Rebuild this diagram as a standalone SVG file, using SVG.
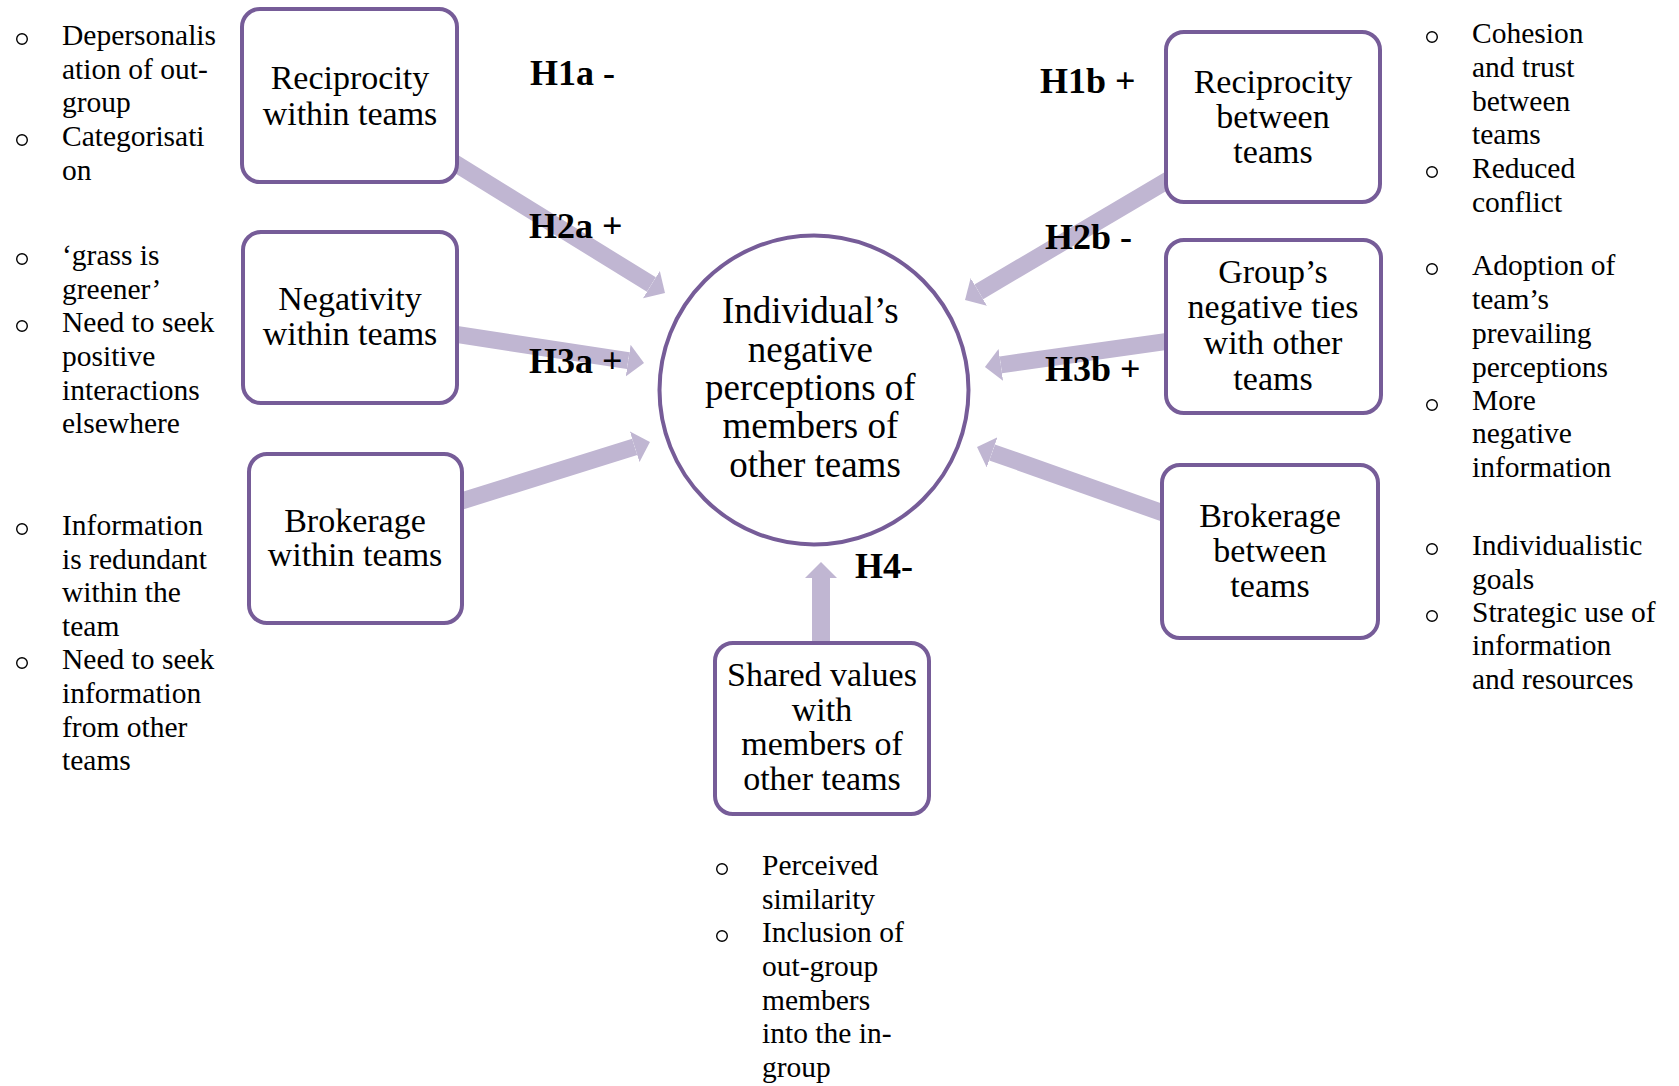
<svg xmlns="http://www.w3.org/2000/svg" width="1679" height="1086" viewBox="0 0 1679 1086">
  <style>
    .box { fill: #ffffff; stroke: #765c98; stroke-width: 4; }
    .hub { fill: #ffffff; stroke: #765c98; stroke-width: 4; }
    .node-text { font-family: "Liberation Serif", "Times New Roman", serif; font-size: 34px; fill: #000; text-anchor: middle; }
    .hub-text { font-family: "Liberation Serif", "Times New Roman", serif; font-size: 37px; fill: #000; text-anchor: middle; }
    .label { font-family: "Liberation Serif", "Times New Roman", serif; font-size: 36px; font-weight: bold; fill: #000; }
    .note { font-family: "Liberation Serif", "Times New Roman", serif; font-size: 29.5px; fill: #000; }
    .dot { fill: none; stroke: #000; stroke-width: 1.4; }
    .link { stroke: #c0b6d2; stroke-width: 17; fill: none; marker-end: url(#head); }
  </style>
  <defs>
    <marker id="head" markerUnits="userSpaceOnUse" markerWidth="16" markerHeight="32" refX="0" refY="16" orient="auto" viewBox="0 0 16 32">
      <path d="M0,0 L16,16 L0,32 Z" fill="#c0b6d2"/>
    </marker>
  </defs>
  <rect width="1679" height="1086" fill="#ffffff"/>

  <!-- connectors -->
  <g id="connectors">
    <line class="link" x1="445" y1="157" x2="651.4" y2="284.6"/>
    <line class="link" x1="445" y1="332.7" x2="628.2" y2="360.6"/>
    <line class="link" x1="450" y1="504.7" x2="634.7" y2="446.8"/>
    <line class="link" x1="1176" y1="175.4" x2="978.8" y2="291.9"/>
    <line class="link" x1="1176" y1="340.2" x2="1000.8" y2="364.8"/>
    <line class="link" x1="1173" y1="516.6" x2="992.1" y2="452.4"/>
    <line class="link" x1="821" y1="650" x2="821" y2="578" style="stroke-width:18"/>
  </g>

  <!-- central outcome -->
  <g id="outcome">
    <circle class="hub" cx="814" cy="390" r="154.5"/>
    <text class="hub-text" x="815">
      <tspan x="815" y="323">Individual’s</tspan>
      <tspan x="815" y="362">negative</tspan>
      <tspan x="815" y="400">perceptions of</tspan>
      <tspan x="815" y="438">members of</tspan>
      <tspan x="815" y="477">other teams</tspan>
    </text>
  </g>

  <!-- predictor nodes -->
  <g id="reciprocity-within">
    <rect class="box" x="242" y="9" width="215" height="173" rx="18"/>
    <text class="node-text"><tspan x="350" y="89">Reciprocity</tspan><tspan x="350" y="125">within teams</tspan></text>
  </g>
  <g id="negativity-within">
    <rect class="box" x="243" y="232" width="214" height="171" rx="18"/>
    <text class="node-text"><tspan x="350" y="310">Negativity</tspan><tspan x="350" y="345">within teams</tspan></text>
  </g>
  <g id="brokerage-within">
    <rect class="box" x="249" y="454" width="213" height="169" rx="18"/>
    <text class="node-text"><tspan x="355" y="532">Brokerage</tspan><tspan x="355" y="566">within teams</tspan></text>
  </g>
  <g id="reciprocity-between">
    <rect class="box" x="1166" y="32" width="214" height="170" rx="18"/>
    <text class="node-text"><tspan x="1273" y="93">Reciprocity</tspan><tspan x="1273" y="128">between</tspan><tspan x="1273" y="163">teams</tspan></text>
  </g>
  <g id="negative-ties">
    <rect class="box" x="1166" y="240" width="215" height="173" rx="18"/>
    <text class="node-text"><tspan x="1273" y="283">Group’s</tspan><tspan x="1273" y="318">negative ties</tspan><tspan x="1273" y="354">with other</tspan><tspan x="1273" y="390">teams</tspan></text>
  </g>
  <g id="brokerage-between">
    <rect class="box" x="1162" y="465" width="216" height="173" rx="18"/>
    <text class="node-text"><tspan x="1270" y="527">Brokerage</tspan><tspan x="1270" y="562">between</tspan><tspan x="1270" y="597">teams</tspan></text>
  </g>
  <g id="shared-values">
    <rect class="box" x="715" y="643" width="214" height="171" rx="18"/>
    <text class="node-text"><tspan x="822" y="686">Shared values</tspan><tspan x="822" y="721">with</tspan><tspan x="822" y="755">members of</tspan><tspan x="822" y="790">other teams</tspan></text>
  </g>

  <!-- hypothesis labels -->
  <g id="labels">
    <text class="label" x="530" y="85">H1a -</text>
    <text class="label" x="529" y="238">H2a +</text>
    <text class="label" x="529" y="373">H3a +</text>
    <text class="label" x="1040" y="93">H1b +</text>
    <text class="label" x="1045" y="249">H2b -</text>
    <text class="label" x="1045" y="381">H3b +</text>
    <text class="label" x="855" y="578">H4-</text>
  </g>

  <!-- mechanism notes, left -->
  <g id="notes-reciprocity-within">
    <circle class="dot" cx="22" cy="39" r="5.3"/>
    <circle class="dot" cx="22" cy="140" r="5.3"/>
    <text class="note"><tspan x="62" y="45">Depersonalis</tspan><tspan x="62" y="79">ation of out-</tspan><tspan x="62" y="112">group</tspan><tspan x="62" y="146">Categorisati</tspan><tspan x="62" y="180">on</tspan></text>
  </g>
  <g id="notes-negativity-within">
    <circle class="dot" cx="22" cy="259" r="5.3"/>
    <circle class="dot" cx="22" cy="326" r="5.3"/>
    <text class="note"><tspan x="62" y="265">‘grass is</tspan><tspan x="62" y="299">greener’</tspan><tspan x="62" y="332">Need to seek</tspan><tspan x="62" y="366">positive</tspan><tspan x="62" y="400">interactions</tspan><tspan x="62" y="433">elsewhere</tspan></text>
  </g>
  <g id="notes-brokerage-within">
    <circle class="dot" cx="22" cy="529" r="5.3"/>
    <circle class="dot" cx="22" cy="663" r="5.3"/>
    <text class="note"><tspan x="62" y="535">Information</tspan><tspan x="62" y="569">is redundant</tspan><tspan x="62" y="602">within the</tspan><tspan x="62" y="636">team</tspan><tspan x="62" y="669">Need to seek</tspan><tspan x="62" y="703">information</tspan><tspan x="62" y="737">from other</tspan><tspan x="62" y="770">teams</tspan></text>
  </g>

  <!-- mechanism notes, right -->
  <g id="notes-reciprocity-between">
    <circle class="dot" cx="1432" cy="37" r="5.3"/>
    <circle class="dot" cx="1432" cy="172" r="5.3"/>
    <text class="note"><tspan x="1472" y="43">Cohesion</tspan><tspan x="1472" y="77">and trust</tspan><tspan x="1472" y="111">between</tspan><tspan x="1472" y="144">teams</tspan><tspan x="1472" y="178">Reduced</tspan><tspan x="1472" y="212">conflict</tspan></text>
  </g>
  <g id="notes-negative-ties">
    <circle class="dot" cx="1432" cy="269" r="5.3"/>
    <circle class="dot" cx="1432" cy="405" r="5.3"/>
    <text class="note"><tspan x="1472" y="275">Adoption of</tspan><tspan x="1472" y="309">team’s</tspan><tspan x="1472" y="343">prevailing</tspan><tspan x="1472" y="377">perceptions</tspan><tspan x="1472" y="410">More</tspan><tspan x="1472" y="443">negative</tspan><tspan x="1472" y="477">information</tspan></text>
  </g>
  <g id="notes-brokerage-between">
    <circle class="dot" cx="1432" cy="549" r="5.3"/>
    <circle class="dot" cx="1432" cy="616" r="5.3"/>
    <text class="note"><tspan x="1472" y="555">Individualistic</tspan><tspan x="1472" y="589">goals</tspan><tspan x="1472" y="622">Strategic use of</tspan><tspan x="1472" y="655">information</tspan><tspan x="1472" y="689">and resources</tspan></text>
  </g>

  <!-- mechanism notes, bottom -->
  <g id="notes-shared-values">
    <circle class="dot" cx="722" cy="869" r="5.3"/>
    <circle class="dot" cx="722" cy="936" r="5.3"/>
    <text class="note"><tspan x="762" y="875">Perceived</tspan><tspan x="762" y="909">similarity</tspan><tspan x="762" y="942">Inclusion of</tspan><tspan x="762" y="976">out-group</tspan><tspan x="762" y="1010">members</tspan><tspan x="762" y="1043">into the in-</tspan><tspan x="762" y="1077">group</tspan></text>
  </g>
</svg>
